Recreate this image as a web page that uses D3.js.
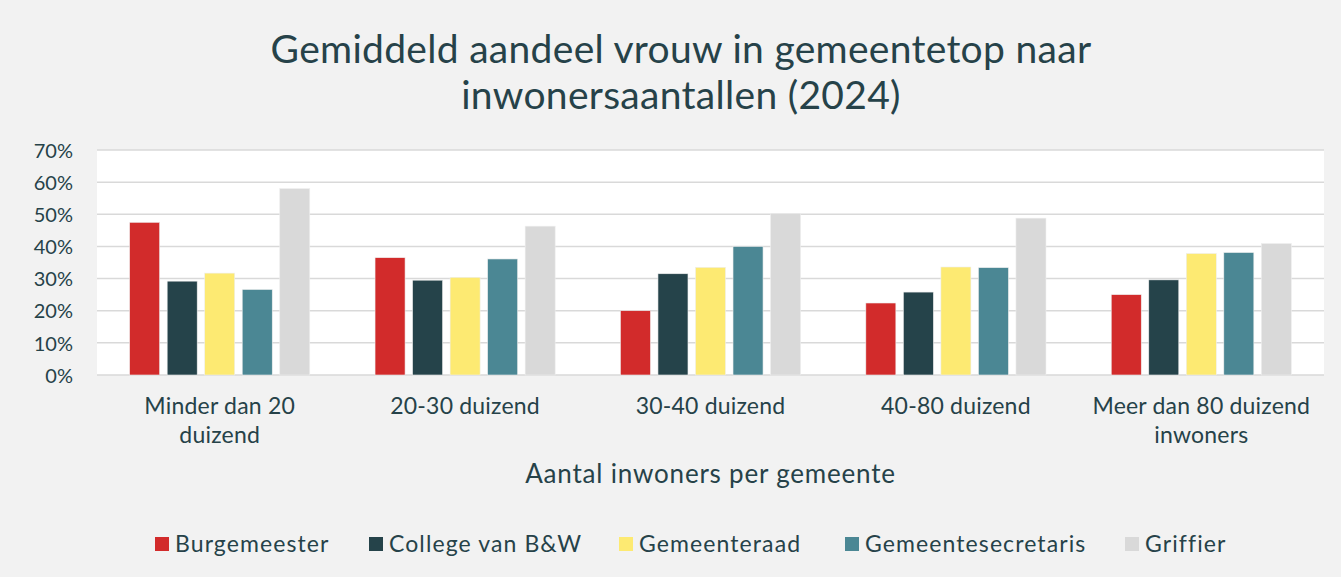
<!DOCTYPE html>
<html>
<head>
<meta charset="utf-8">
<script src="https://cdn.jsdelivr.net/npm/d3@7"></script>
<style>
  body { margin:0; background:#f2f2f2; }
  svg text { font-family: Lato, "Noto Sans", sans-serif; fill:#264249; }
</style>
</head>
<body>
<svg id="chart"></svg>
<script>
// categories (x axis), with line breaks as in the picture
var categories = ["Minder dan 20\nduizend","20-30 duizend","30-40 duizend","40-80 duizend","Meer dan 80 duizend\ninwoners"]
var seriesNames = ["Burgemeester","College van B&W","Gemeenteraad","Gemeentesecretaris","Griffier"]
var seriesColors = ["#d22b2b","#25434a","#fdea72","#4b8794","#d9d9d9"]

// values in percent, one array per series
var burgemeester = [47.5, 36.5, 20.0, 22.4, 25.0]
var college      = [29.2, 29.5, 31.5, 25.8, 29.6]
var gemeenteraad = [31.7, 30.4, 33.5, 33.6, 37.8]
var secretaris   = [26.6, 36.1, 40.0, 33.4, 38.1]
var griffier     = [58.0, 46.3, 50.3, 48.8, 40.9]

var yTicks = [0,10,20,30,40,50,60,70]

var initChart = function()
{
    var screen = {width:1341, height:577}
    var margins = {left:97, right:17, top:150, bottom:202}
    var graph = {
        width: screen.width - margins.left - margins.right,
        height: screen.height - margins.top - margins.bottom
    }

    var svg = d3.select("#chart")
        .attr("width", screen.width)
        .attr("height", screen.height)

    svg.append("rect")
       .attr("width", screen.width).attr("height", screen.height)
       .attr("fill", "#f2f2f2")

    var allSeries = [burgemeester, college, gemeenteraad, secretaris, griffier]
    var rows = categories.map(function(cat, i) {
        return {cat: cat, values: allSeries.map(function(s, j) {
            return {name: seriesNames[j], value: s[i], color: seriesColors[j]}
        })}
    })

    var x0 = d3.scaleBand()
        .domain(categories)
        .range([0, graph.width])
        .paddingInner(0.266)
        .paddingOuter(0.133)

    var x1 = d3.scaleBand()
        .domain(seriesNames)
        .range([0, x0.bandwidth()])
        .paddingInner(0.2)

    var yScale = d3.scaleLinear()
        .domain([0, 70])
        .range([graph.height, 0])

    var target = svg.append("g")
        .attr("transform", "translate(" + margins.left + "," + margins.top + ")")

    target.append("rect")
        .attr("width", graph.width)
        .attr("height", graph.height)
        .attr("fill", "white")

    // gridlines
    target.append("g")
        .selectAll("line")
        .data(yTicks)
        .enter()
        .append("line")
        .attr("x1", 0).attr("x2", graph.width)
        .attr("y1", function(d) { return yScale(d) })
        .attr("y2", function(d) { return yScale(d) })
        .attr("stroke", "#d9d9d9")
        .attr("stroke-width", 1.5)

    // bars
    var groups = target.selectAll("g.group")
        .data(rows)
        .enter()
        .append("g")
        .classed("group", true)
        .attr("transform", function(d) { return "translate(" + x0(d.cat) + ",0)" })

    groups.selectAll("rect")
        .data(function(d) { return d.values })
        .enter()
        .append("rect")
        .attr("x", function(d) { return x1(d.name) })
        .attr("width", x1.bandwidth())
        .attr("y", function(d) { return yScale(d.value) })
        .attr("height", function(d) { return graph.height - yScale(d.value) })
        .attr("fill", function(d) { return d.color })
        .attr("stroke", "#eeeeee")
        .attr("stroke-width", 0.6)

    // y axis
    var yAxis = d3.axisLeft(yScale)
        .tickValues(yTicks)
        .tickSize(0)
        .tickPadding(24)
        .tickFormat(function(d) { return d + "%" })
    var yg = target.append("g").call(yAxis)
    yg.select(".domain").remove()
    yg.selectAll("text")
      .attr("font-size", 20)
      .attr("dy", "0.36em")

    // x axis
    var xAxis = d3.axisBottom(x0).tickSize(0).tickPadding(0)
    var xg = target.append("g")
        .attr("transform", "translate(0," + graph.height + ")")
        .call(xAxis)
    xg.select(".domain").remove()
    xg.selectAll(".tick text").each(function(d) {
        var t = d3.select(this).text("")
            .attr("font-size", 23)
            .attr("letter-spacing", 0.2)
            .attr("y", 0)
            .attr("dy", 0)
        d.split("\n").forEach(function(line, i) {
            t.append("tspan")
             .attr("x", 0)
             .attr("y", 39 + i * 29)
             .text(line)
        })
    })

    // title
    var title = svg.append("text")
        .attr("text-anchor", "middle")
        .attr("font-size", 39)
        .attr("letter-spacing", 0.3)
    title.append("tspan").attr("x", 681).attr("y", 63).text("Gemiddeld aandeel vrouw in gemeentetop naar")
    title.append("tspan").attr("x", 681).attr("y", 109).text("inwonersaantallen (2024)")

    // x axis title
    svg.append("text")
       .attr("text-anchor", "middle")
       .attr("x", margins.left + graph.width / 2)
       .attr("y", 483)
       .attr("font-size", 26)
       .attr("letter-spacing", 0.8)
       .text("Aantal inwoners per gemeente")

    // legend
    var legendX = [155, 369, 619, 845, 1125]
    var legend = svg.append("g")
    var entries = legend.selectAll("g")
        .data(seriesNames)
        .enter()
        .append("g")
        .attr("transform", function(d, i) { return "translate(" + legendX[i] + ",537)" })
    entries.append("rect")
        .attr("width", 14).attr("height", 14)
        .attr("fill", function(d, i) { return seriesColors[i] })
    entries.append("text")
        .attr("x", 20).attr("y", 15)
        .attr("font-size", 23)
        .attr("letter-spacing", 1.1)
        .text(function(d) { return d })
}

initChart()
</script>
</body>
</html>
